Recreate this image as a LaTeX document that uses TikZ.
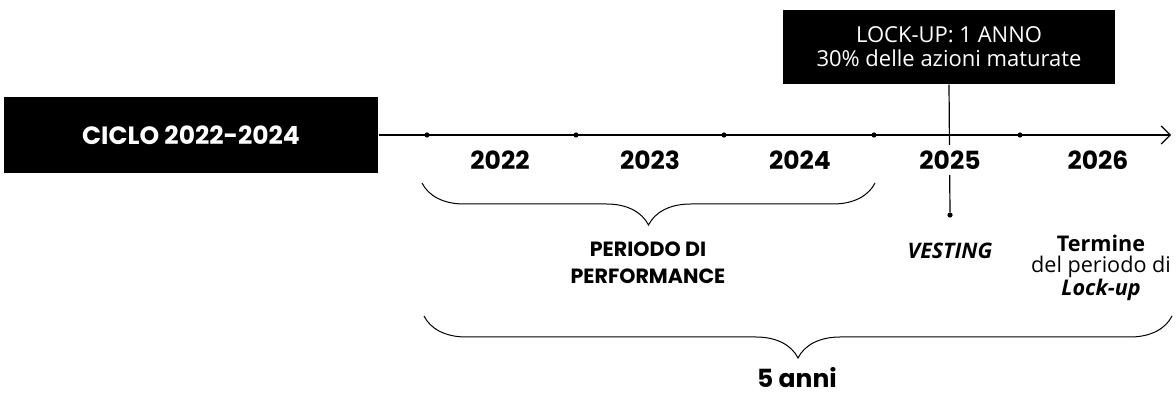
\documentclass[tikz,border=0pt]{standalone}
\usepackage{fontspec}
\newfontfamily\geofont{Poppins}
\newfontfamily\humfont{Open Sans}
\usetikzlibrary{arrows.meta,decorations.pathreplacing}

\tikzset{
  blackbox/.style={fill=black, text=white, inner sep=0pt, align=center},
  anno/.style={font=\geofont\bfseries\fontsize{12.5}{14}\selectfont},
  dot/.style={circle, fill=black, inner sep=0pt, minimum size=2.6pt},
  graffa/.style={decorate, decoration={brace, mirror, amplitude=21pt}, line width=0.5pt},
}

\begin{document}
\begin{tikzpicture}[x=0.5pt, y=-0.5pt, line width=0.6pt]
\useasboundingbox (0,0) rectangle (1176,394);

% boxes
\node[blackbox, minimum width=187pt, minimum height=38pt,
      font=\geofont\bfseries\fontsize{12.5}{14}\selectfont] (ciclo) at (191,135) {CICLO 2022-2024};
\node[blackbox, minimum width=166pt, minimum height=37pt,
      font=\humfont\fontsize{11}{12}\selectfont] (lock) at (949,47) {LOCK-UP: 1 ANNO\\30\% delle azioni maturate};

% axis
\coordinate (fine) at (1171,135);
\path[draw, -{Straight Barb[length=4.5pt, width=9pt, line width=0.6pt]}] (ciclo.east) -- (fine);

\node[dot] (p1) at (427,135) {};
\node[dot] (p2) at (576,135) {};
\node[dot] (p3) at (724,135) {};
\node[dot] (p4) at (874,135) {};
\node[dot] (p5) at (1020,135) {};

% vesting
\node[dot] (vest) at (950,215) {};
\path[draw] (lock.south) -- (vest);

% years
\node[anno] (a22) at (500,160) {2022};
\node[anno] (a23) at (650,160) {2023};
\node[anno] (a24) at (800,160) {2024};
\node[anno, fill=white, inner xsep=1pt, inner ysep=3pt] (a25) at (950,160) {2025};
\node[anno] (a26) at (1098,160) {2026};

% braces
\coordinate (g1s) at (422,183);
\coordinate (g1e) at (875,183);
\path[draw, graffa] (g1s) -- (g1e);
\coordinate (g2s) at (424,316);
\coordinate (g2e) at (1172,316);
\path[draw, graffa] (g2s) -- (g2e);

% labels
\node[align=center, font=\geofont\bfseries\fontsize{10.3}{13.5}\selectfont] (perf) at (648,263) {PERIODO DI\\PERFORMANCE};
\node[font=\humfont\bfseries\itshape\fontsize{10.7}{11}\selectfont] (vlab) at (950,251) {VESTING};
\node[align=center, font=\humfont\fontsize{10.8}{10.2}\selectfont] (term) at (1101,268)
  {{\bfseries Termine}\\del periodo di\\{\bfseries\itshape Lock-up}};
\node[font=\geofont\bfseries\fontsize{12.5}{14}\selectfont] (anni) at (797,378) {5 anni};
\end{tikzpicture}
\end{document}
